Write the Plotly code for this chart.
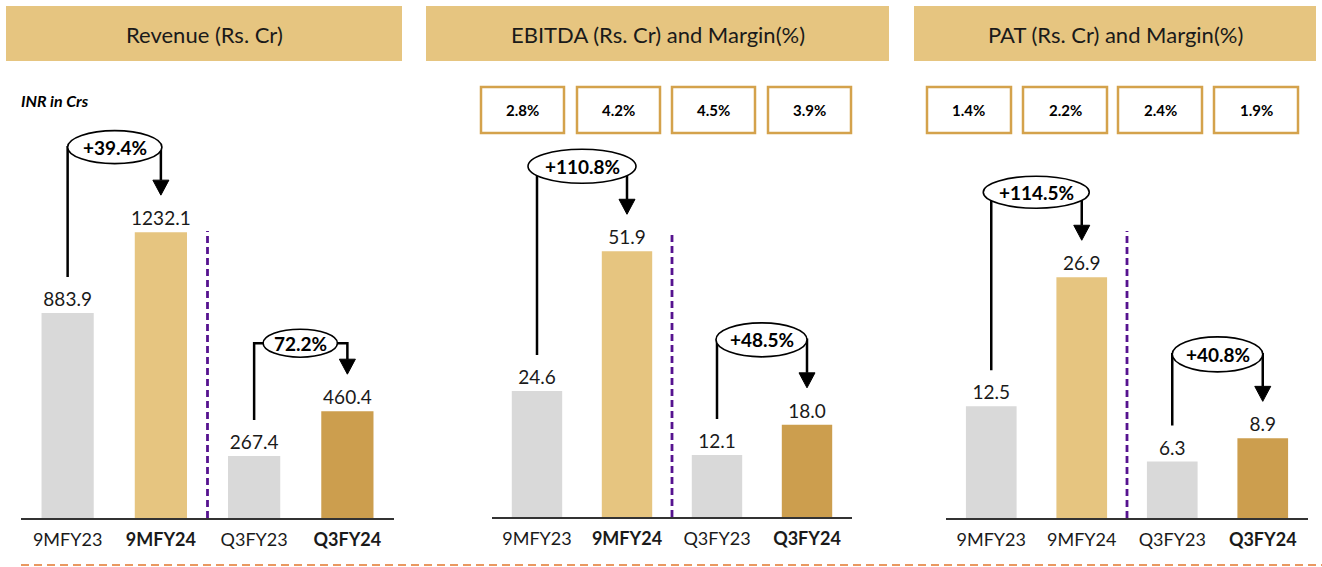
import plotly.graph_objects as go

# ---------------- data ----------------
categories = ["9MFY23", "9MFY24", "Q3FY23", "Q3FY24"]
revenue = [883.9, 1232.1, 267.4, 460.4]
ebitda = [24.6, 51.9, 12.1, 18.0]
pat = [12.5, 26.9, 6.3, 8.9]
ebitda_margin = ["2.8%", "4.2%", "4.5%", "3.9%"]
pat_margin = ["1.4%", "2.2%", "2.4%", "1.9%"]
revenue_growth = ["+39.4%", "72.2%"]
ebitda_growth = ["+110.8%", "+48.5%"]
pat_growth = ["+114.5%", "+40.8%"]
titles = ["Revenue (Rs. Cr)", "EBITDA (Rs. Cr) and Margin(%)", "PAT (Rs. Cr) and Margin(%)"]
bold_ticks = [[False, True, False, True], [False, True, False, True], [False, False, False, True]]

# ---------------- styling / layout ----------------
W, H = 1322, 567
FONT = "Lato"
bar_colors = ["#D9D9D9", "#E6C580", "#D9D9D9", "#CC9E4E"]
HEADER_FILL = "#E6C580"
BOX_LINE = "#D4A24C"
PURPLE = "#56138F"
ORANGE = "#E2772E"


def xp(px):
    return px / W


def yp(py):
    return 1 - py / H


# panel geometry in pixels: axis left, axis right, baseline, px per unit
panels = [
    dict(vals=revenue, growth=revenue_growth, xl=21, xr=394, base=518, ppu=0.232,
         hdr=(6, 402), arrows=[dict(pad=(0, 1), eh=33, up=85), dict(pad=(-9, -10), eh=28, up=68)]),
    dict(vals=ebitda, growth=ebitda_growth, xl=492, xr=852, base=517, ppu=5.12,
         hdr=(426, 889), arrows=[dict(pad=(9, 9), eh=34, up=85), dict(pad=(1, 0), eh=34, up=85)]),
    dict(vals=pat, growth=pat_growth, xl=946, xr=1308, base=518, ppu=8.95,
         hdr=(914, 1316), arrows=[dict(pad=(8, 7.5), eh=32, up=85), dict(pad=(0, 0), eh=35, up=84)]),
]
TOP = 100

fig = go.Figure()
shapes = []
annotations = []
layout_axes = {}

for k, p in enumerate(panels):
    sfx = "" if k == 0 else str(k + 1)
    xa, ya = "x" + sfx, "y" + sfx
    ymax = (p["base"] - TOP) / p["ppu"]
    spacing = (p["xr"] - p["xl"]) / 4.0
    dy = lambda px, p=p: px / p["ppu"]
    dx = lambda px, s=spacing: px / s

    vals = p["vals"]
    fig.add_trace(go.Bar(
        x=list(range(len(categories))), y=vals, xaxis=xa, yaxis=ya,
        marker=dict(color=bar_colors, line=dict(width=0)),
        width=0.56,
        text=[f"{v:.1f}" for v in vals], textposition="outside", constraintext="none",
        textfont=dict(family=FONT, size=19, color="#1a1a1a"),
        cliponaxis=False, hoverinfo="skip", showlegend=False,
    ))

    ticktext = [f"<b>{c}</b>" if b else c for c, b in zip(categories, bold_ticks[k])]
    layout_axes["xaxis" + sfx] = dict(
        domain=[xp(p["xl"]), xp(p["xr"])], range=[-0.5, 3.5], anchor=ya,
        tickvals=list(range(4)), ticktext=ticktext,
        tickfont=dict(family=FONT, size=18, color="#1a1a1a"),
        showline=True, linecolor="#333333", linewidth=1.6,
        showgrid=False, zeroline=False, ticks="outside", ticklen=5,
        tickcolor="rgba(0,0,0,0)", fixedrange=True,
    )
    layout_axes["yaxis" + sfx] = dict(
        domain=[yp(p["base"]), yp(TOP)], range=[0, ymax], anchor=xa,
        visible=False, fixedrange=True,
    )

    # dashed purple separator
    shapes.append(dict(type="line", xref=xa, yref="paper", x0=1.5, x1=1.5,
                       y0=yp(p["base"]), y1=yp(231),
                       line=dict(color=PURPLE, width=2.8, dash="7px,4px")))

    # growth arrows
    for (i, j), g, a in zip([(0, 1), (2, 3)], p["growth"], p["arrows"]):
        y_bottom = vals[i] + dy(36)
        y_tip = vals[j] + dy(37)
        y_head = vals[j] + dy(52)
        y_c = max(vals[i], vals[j]) + dy(a["up"])
        hw = dx(8)
        shapes.append(dict(type="path", xref=xa, yref=ya,
                           path=f"M {i},{y_bottom} L {i},{y_c} L {j},{y_c} L {j},{y_head}",
                           line=dict(color="black", width=2.5)))
        shapes.append(dict(type="path", xref=xa, yref=ya,
                           path=f"M {j - hw},{y_head} L {j + hw},{y_head} L {j},{y_tip} Z",
                           fillcolor="black", line=dict(color="black", width=1)))
        shapes.append(dict(type="circle", xref=xa, yref=ya,
                           x0=i - dx(a["pad"][0]), x1=j + dx(a["pad"][1]),
                           y0=y_c - dy(a["eh"] / 2), y1=y_c + dy(a["eh"] / 2),
                           fillcolor="white", line=dict(color="black", width=1.6)))
        annotations.append(dict(xref=xa, yref=ya, x=(i - dx(a["pad"][0]) + j + dx(a["pad"][1])) / 2,
                                y=y_c, text=f"<b>{g}</b>", showarrow=False,
                                xanchor="center", yanchor="middle",
                                font=dict(family=FONT, size=19, color="black")))

    # header
    h0, h1 = p["hdr"]
    shapes.append(dict(type="rect", xref="paper", yref="paper", x0=xp(h0), x1=xp(h1),
                       y0=yp(61), y1=yp(6), fillcolor=HEADER_FILL, line=dict(width=0), layer="below"))
    annotations.append(dict(xref="paper", yref="paper", x=xp((h0 + h1) / 2), y=yp(34),
                            xanchor="center", yanchor="middle",
                            text=titles[k], showarrow=False,
                            font=dict(family=FONT, size=22, color="#1a1a1a")))

# margin boxes
margin_boxes = [(ebitda_margin, [481, 577, 672, 768], 83), (pat_margin, [927, 1023, 1118, 1214], 84)]
for labels, lefts, w in margin_boxes:
    for lab, left in zip(labels, lefts):
        shapes.append(dict(type="rect", xref="paper", yref="paper", x0=xp(left), x1=xp(left + w),
                           y0=yp(133), y1=yp(87), fillcolor="white",
                           line=dict(color=BOX_LINE, width=2.5)))
        annotations.append(dict(xref="paper", yref="paper", x=xp(left + w / 2), y=yp(110),
                                xanchor="center", yanchor="middle",
                                text=f"<b>{lab}</b>", showarrow=False,
                                font=dict(family=FONT, size=15, color="black")))

# INR note
annotations.append(dict(xref="paper", yref="paper", x=xp(19), y=yp(101), xanchor="left", yanchor="middle",
                        text="<b><i>INR in Crs</i></b>", showarrow=False,
                        font=dict(family=FONT, size=16, color="black")))

# bottom dashed orange line
shapes.append(dict(type="line", xref="paper", yref="paper", x0=xp(21), x1=1.0,
                   y0=yp(565), y1=yp(565), line=dict(color=ORANGE, width=1.6, dash="8px,5px")))

fig.update_layout(
    width=W, height=H, margin=dict(l=0, r=0, t=0, b=0),
    paper_bgcolor="white", plot_bgcolor="white", showlegend=False,
    shapes=shapes, annotations=annotations, bargap=0.44,
    font=dict(family=FONT),
    **layout_axes,
)

fig.write_html("out.html", config={"displayModeBar": False},
               post_script="document.body.style.margin='0';document.body.style.overflow='hidden';")
